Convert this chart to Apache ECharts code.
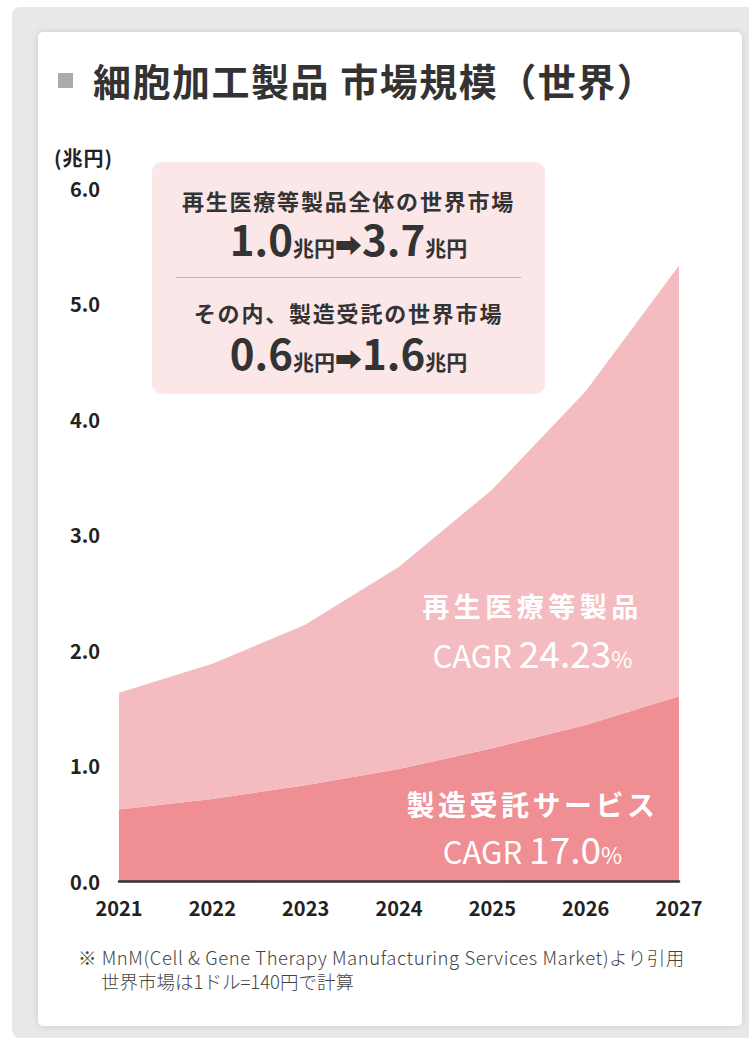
<!DOCTYPE html>
<html>
<head>
<meta charset="utf-8">
<script src="https://cdn.jsdelivr.net/npm/echarts@6/dist/echarts.min.js"></script>
<style>
  html, body { margin: 0; padding: 0; width: 749px; height: 1039px; overflow: hidden; background: #fff;
    font-family: "Noto Sans CJK JP", "Noto Sans", sans-serif; color: #333; }
  #panel { position: absolute; left: 12px; top: 7px; width: 760px; height: 1031px; background: #e8e8e8; border-radius: 8px; }
  #card { position: absolute; left: 38px; top: 32px; width: 704px; height: 994px; background: #fff; border-radius: 5px;
    box-shadow: 0 0 6px rgba(0,0,0,0.13); }
  #chart { position: absolute; left: 0; top: 0; width: 749px; height: 1039px; }
  .abs { position: absolute; white-space: nowrap; }
  #mark { position: absolute; left: 58px; top: 73px; width: 15px; height: 15px; background: #aaaaaa; }
  #title { left: 93px; top: 57px; font-size: 38px; line-height: 46px; font-weight: bold; letter-spacing: 1.5px; color: #333; }
  #unit { left: 54px; top: 146px; font-size: 20px; line-height: 24px; font-weight: bold; letter-spacing: 1px; color: #222; }
  #box { position: absolute; left: 152px; top: 162px; width: 393px; height: 232px; background: #fbe7e8; border-radius: 10px; }
  .bline { position: absolute; left: 152px; width: 393px; text-align: center; white-space: nowrap; color: #333; font-weight: bold; }
  .sub { font-size: 22px; line-height: 26px; letter-spacing: 1.8px; }
  .big { font-size: 42px; line-height: 42px; }
  .big .u { font-size: 21px; }
  .big .ar { font-size: 27px; }
  #divider { position: absolute; left: 176px; top: 277px; width: 345px; height: 1px; background: #b5b5b5; }
  .lab { position: absolute; text-align: center; white-space: nowrap; color: #fff; }
  .lab .n { font-size: 37px; }
  .lab .c { font-size: 31px; }
  .lab .p { font-size: 23px; }
  .note { font-size: 18.5px; line-height: 22px; color: #444; font-weight: 300; }
</style>
</head>
<body>
<div id="panel"></div>
<div id="card"></div>
<div id="chart"></div>

<div id="mark"></div>
<div id="title" class="abs">細胞加工製品 市場規模（世界）</div>
<div id="unit" class="abs">(兆円)</div>

<div id="box"></div>
<div class="bline sub" style="top:187px;">再生医療等製品全体の世界市場</div>
<div class="bline big" id="line-total" style="top:217px;"></div>
<div id="divider"></div>
<div class="bline sub" style="top:299px;">その内、製造受託の世界市場</div>
<div class="bline big" id="line-contract" style="top:331px;"></div>

<div class="lab" id="lab-regen" style="left:400px; width:265px; top:590px; font-size:27px; line-height:32px; letter-spacing:4.5px; font-weight:bold;">再生医療等製品</div>
<div class="lab" id="cagr-regen" style="left:395px; width:275px; top:632px; line-height:40px;"></div>
<div class="lab" id="lab-contract" style="left:395px; width:275px; top:788px; font-size:28px; line-height:32px; letter-spacing:3.5px; font-weight:bold;">製造受託サービス</div>
<div class="lab" id="cagr-contract" style="left:400px; width:265px; top:828px; line-height:40px;"></div>

<div class="abs note" style="left:78px; top:946px; letter-spacing:0.55px;">※ MnM(Cell &amp; Gene Therapy Manufacturing Services Market)より引用</div>
<div class="abs note" style="left:101px; top:970px;">世界市場は1ドル=140円で計算</div>

<script>
// Market size, trillion yen, by year
const years = ['2021', '2022', '2023', '2024', '2025', '2026', '2027'];
// Contract manufacturing services (bottom layer)
const contractValues = [0.62, 0.71, 0.83, 0.97, 1.15, 1.35, 1.60];
// Regenerative medicine products (stacked on top)
const regenValues = [1.01, 1.17, 1.39, 1.75, 2.24, 2.89, 3.73];
// Growth rates shown in the plot
const regenCagr = '24.23';
const contractCagr = '17.0';
// Y axis ticks
const yMin = 0, yMax = 6, yStep = 1;

// Summary box figures, first and last year
function fmt(v) { return v.toFixed(1); }
function rangeHtml(arr) {
  return '<span>' + fmt(arr[0]) + '</span><span class="u">兆円</span><span class="ar">➡</span>' +
         '<span>' + fmt(arr[arr.length - 1]) + '</span><span class="u">兆円</span>';
}
document.getElementById('line-total').innerHTML = rangeHtml(regenValues);
document.getElementById('line-contract').innerHTML = rangeHtml(contractValues);
function cagrHtml(v) {
  return '<span class="c">CAGR </span><span class="n">' + v + '</span><span class="p">%</span>';
}
document.getElementById('cagr-regen').innerHTML = cagrHtml(regenCagr);
document.getElementById('cagr-contract').innerHTML = cagrHtml(contractCagr);

const chart = echarts.init(document.getElementById('chart'), null, { renderer: 'svg' });
chart.setOption({
  backgroundColor: 'transparent',
  animation: false,
  grid: { left: 119, right: 70, top: 188, bottom: 158 },
  xAxis: {
    type: 'category',
    data: years,
    boundaryGap: false,
    z: 5,
    axisLine: { lineStyle: { color: '#333', width: 2.5 } },
    axisTick: { show: false },
    axisLabel: { fontSize: 20, fontWeight: 'bold', color: '#222', margin: 16,
      fontFamily: '"Noto Sans CJK JP", "Noto Sans", sans-serif' }
  },
  yAxis: {
    type: 'value',
    min: yMin, max: yMax, interval: yStep,
    axisLine: { show: false },
    axisTick: { show: false },
    splitLine: { show: false },
    axisLabel: { fontSize: 20, fontWeight: 'bold', color: '#222', margin: 19,
      formatter: v => v.toFixed(1),
      fontFamily: '"Noto Sans CJK JP", "Noto Sans", sans-serif' }
  },
  series: [
    {
      name: '製造受託サービス', type: 'line', stack: 'market', data: contractValues,
      symbol: 'none', lineStyle: { width: 0 },
      areaStyle: { color: '#ef8e93', opacity: 1 }
    },
    {
      name: '再生医療等製品', type: 'line', stack: 'market', data: regenValues,
      symbol: 'none', lineStyle: { width: 0 },
      areaStyle: { color: '#f4bbc0', opacity: 1 }
    }
  ]
});
</script>
</body>
</html>
